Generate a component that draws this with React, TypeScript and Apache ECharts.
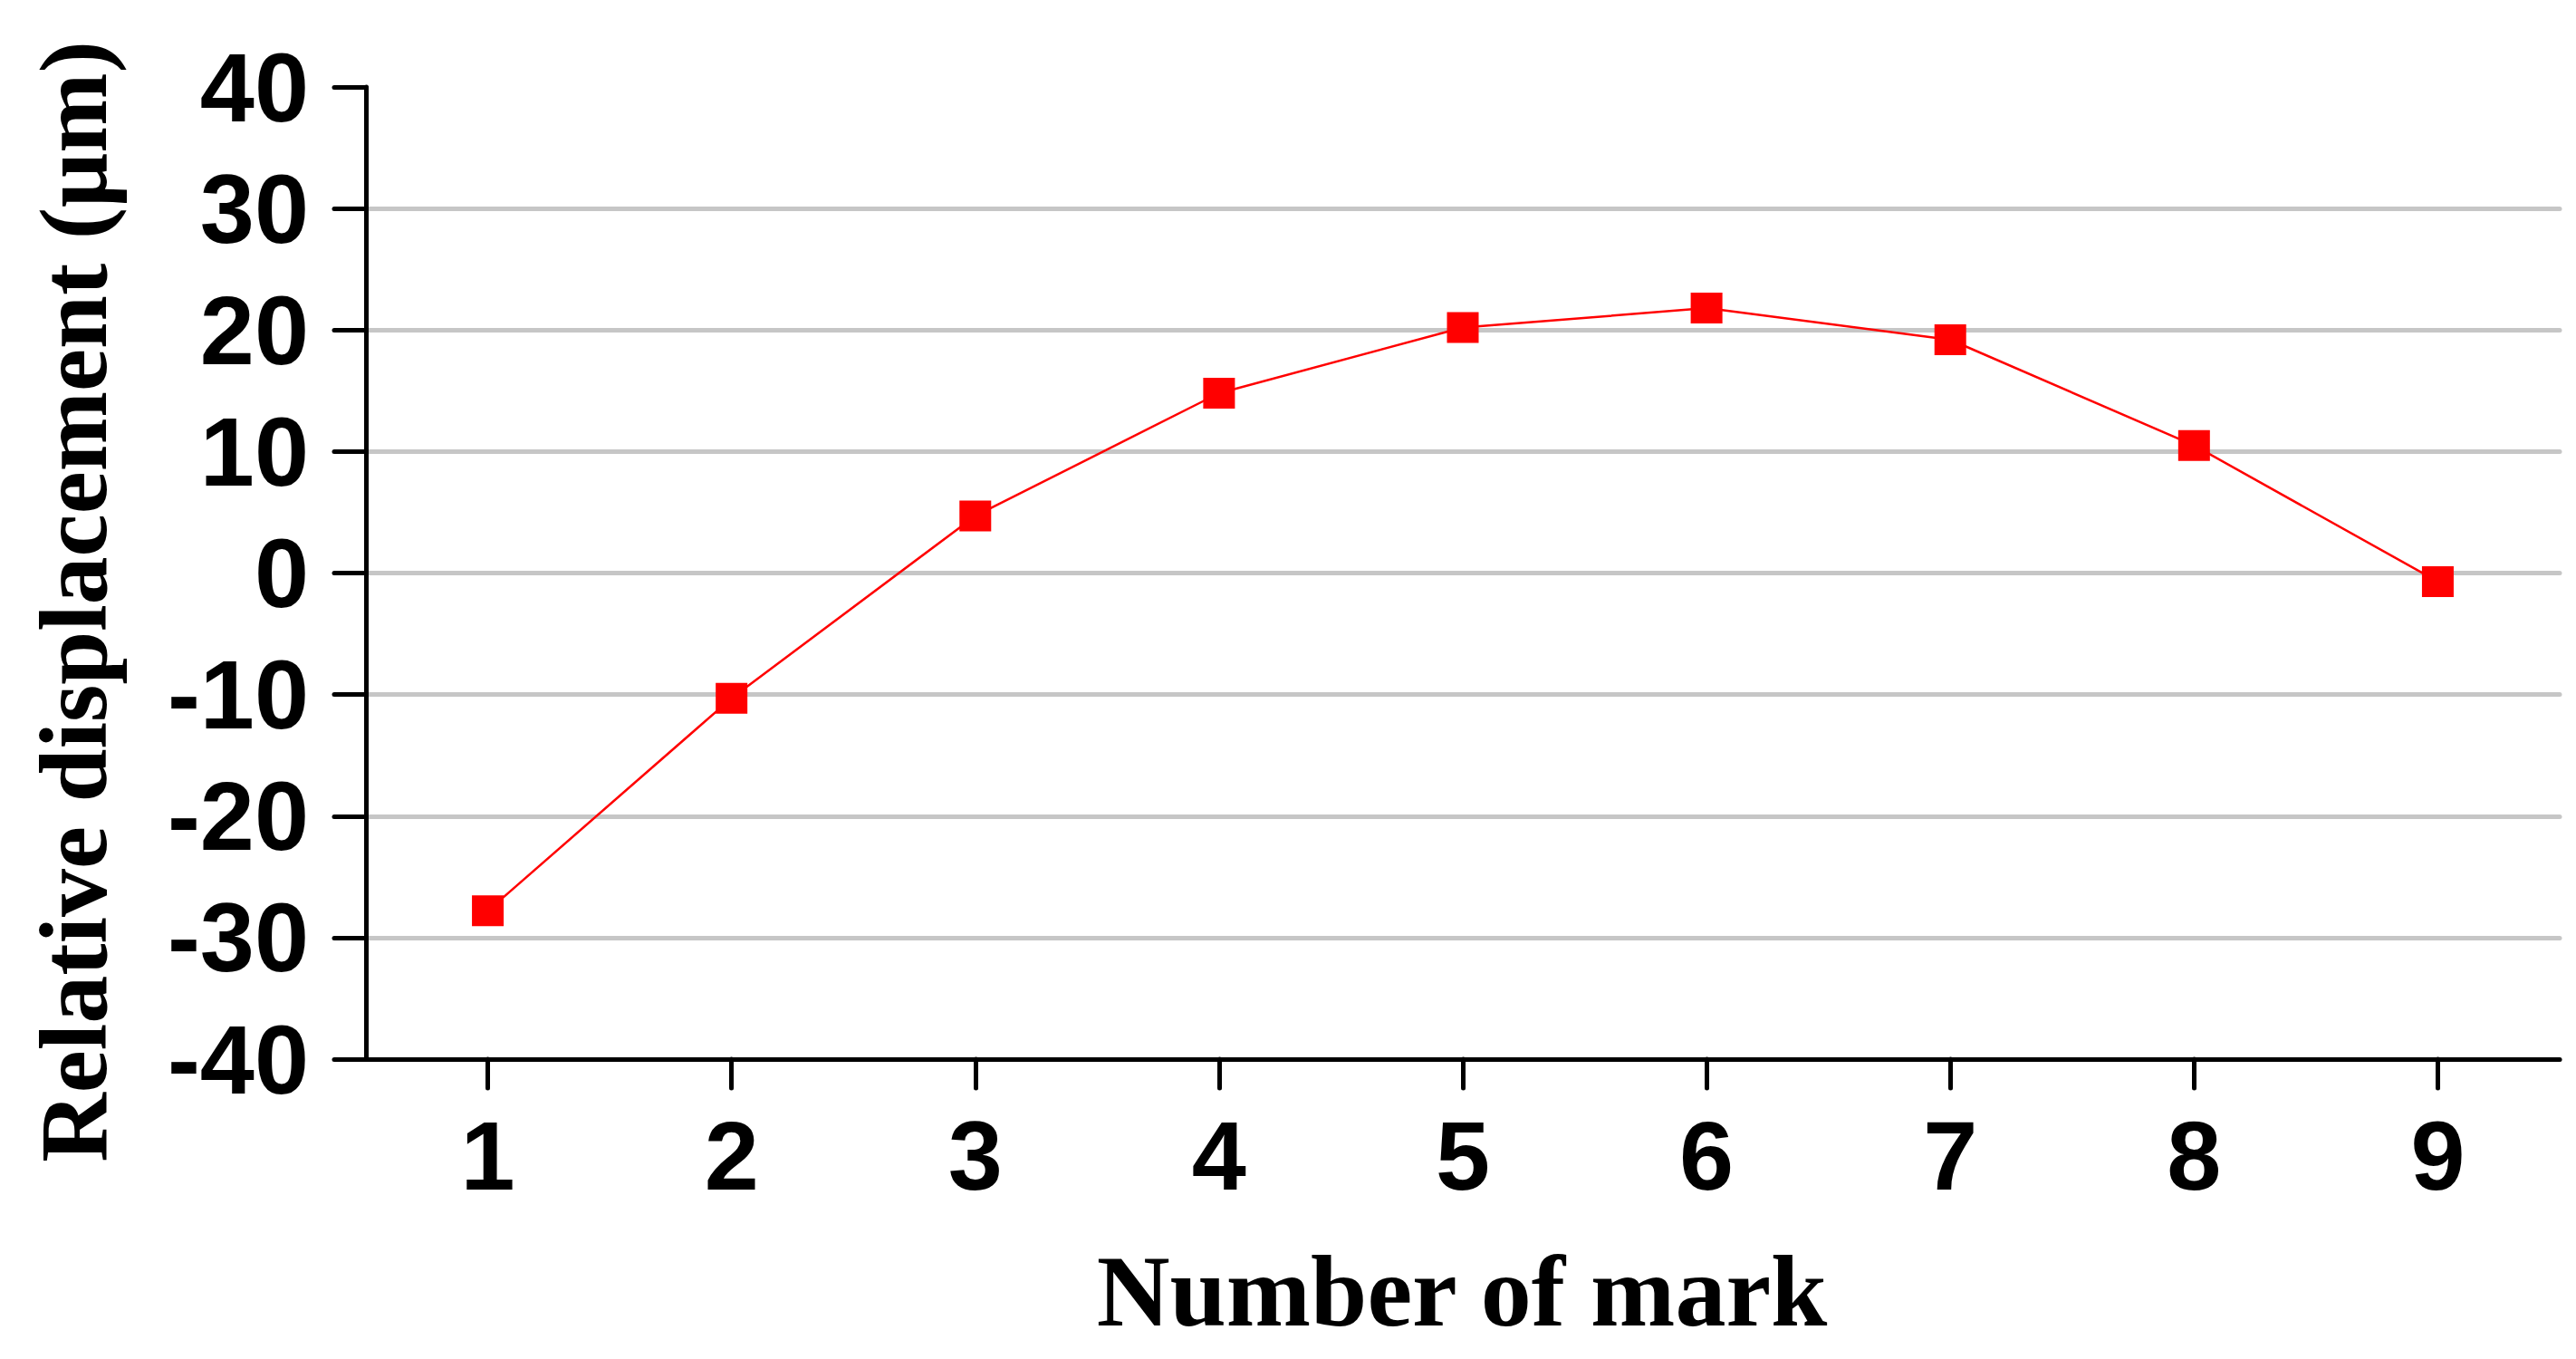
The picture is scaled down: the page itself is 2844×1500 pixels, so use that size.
import React, { useEffect, useRef } from "react";
import * as echarts from "echarts";

const categories = ["1", "2", "3", "4", "5", "6", "7", "8", "9"];
const displacement = [-27.8, -10.3, 4.7, 14.8, 20.2, 21.8, 19.2, 10.5, -0.7];
const yTicks = { min: -40, max: 40, interval: 10 };
const xTitle = "Number of mark";
const yTitle = "Relative displacement (\u03bcm)";

export default function App() {
  const ref = useRef<HTMLDivElement>(null);
  useEffect(() => {
    if (!ref.current) return;
    const chart = echarts.init(ref.current, undefined, { renderer: "svg" });
    chart.setOption({
      animation: false,
      backgroundColor: "#ffffff",
      grid: { left: 404, right: 18, top: 96, bottom: 331, containLabel: false },
      xAxis: {
        type: "category",
        data: categories,
        boundaryGap: true,
        axisLine: { show: true, onZero: false, lineStyle: { color: "#000", width: 5, cap: "round" } },
        axisTick: { show: true, alignWithLabel: true, length: 32, lineStyle: { color: "#000", width: 5, cap: "round" } },
        axisLabel: {
          color: "#000",
          fontFamily: "Liberation Sans",
          fontWeight: "bold",
          fontSize: 108,
          margin: 52,
        },
        splitLine: { show: false },
      },
      yAxis: {
        type: "value",
        min: yTicks.min,
        max: yTicks.max,
        interval: yTicks.interval,
        axisLine: { show: true, onZero: false, lineStyle: { color: "#000", width: 5, cap: "round" } },
        axisTick: { show: true, length: 35, lineStyle: { color: "#000", width: 5, cap: "round" } },
        axisLabel: {
          color: "#000",
          fontFamily: "Liberation Sans",
          fontWeight: "bold",
          fontSize: 108,
          margin: 63,
          padding: [0, 0, 14, 0],
        },
        splitLine: {
          show: true,
          showMaxLine: false,
          lineStyle: { color: "#c6c6c6", width: 5, cap: "round" },
        },
      },
      graphic: [
        {
          type: "text",
          x: 1614,
          y: 1425,
          style: {
            text: xTitle,
            fontFamily: "Liberation Serif",
            fontWeight: "bold",
            fontSize: 112,
            fill: "#000",
            align: "center",
            verticalAlign: "middle",
          },
        },
        {
          type: "text",
          x: 81,
          y: 664,
          rotation: Math.PI / 2,
          style: {
            text: yTitle,
            fontFamily: "Liberation Serif",
            fontWeight: "bold",
            fontSize: 106,
            fill: "#000",
            align: "center",
            verticalAlign: "middle",
          },
        },
      ],
      series: [
        {
          type: "line",
          data: displacement,
          symbol: "rect",
          symbolSize: [35, 34],
          itemStyle: { color: "#ff0000" },
          lineStyle: { color: "#ff0000", width: 2.5 },
          z: 3,
        },
      ],
    });
    return () => chart.dispose();
  }, []);
  return (
    <div
      ref={ref}
      style={{ position: "fixed", left: 0, top: 0, width: 2844, height: 1500, background: "#fff" }}
    />
  );
}
